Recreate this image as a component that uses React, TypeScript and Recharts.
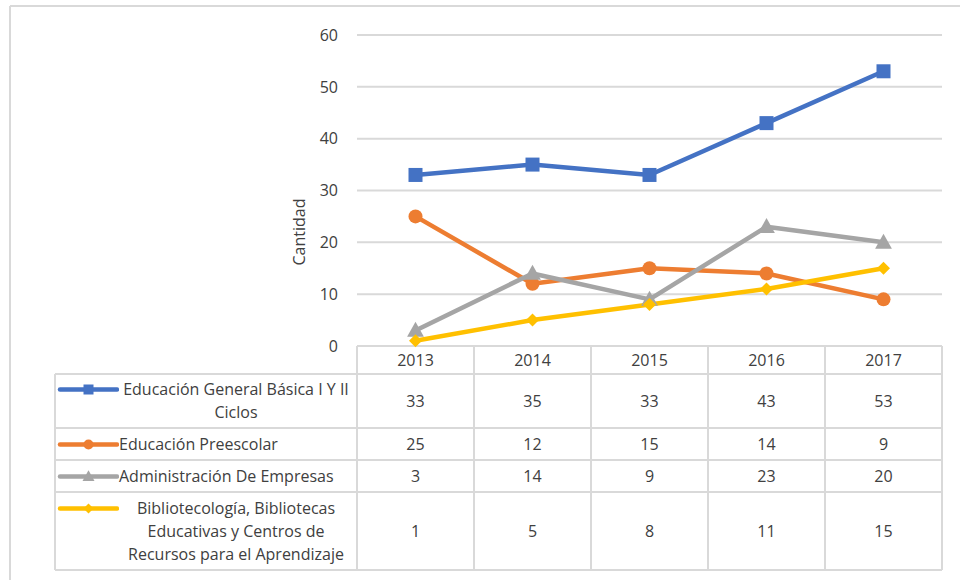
import { LineChart, Line, XAxis, YAxis, CartesianGrid } from 'recharts'

const years = ['2013', '2014', '2015', '2016', '2017']
const seriesNames = [
  'Educación General Básica I Y II Ciclos',
  'Educación Preescolar',
  'Administración De Empresas',
  'Bibliotecología, Bibliotecas Educativas y Centros de Recursos para el Aprendizaje',
]
const basica = [33, 35, 33, 43, 53]
const preescolar = [25, 12, 15, 14, 9]
const administracion = [3, 14, 9, 23, 20]
const bibliotecologia = [1, 5, 8, 11, 15]
const yTicks = [0, 10, 20, 30, 40, 50, 60]
const yTitle = 'Cantidad'

const FONT = '"Open Sans", "Liberation Sans", sans-serif'
const FS = 16
const TEXT = '#404040'
const GRID = '#D9D9D9'

type Shape = 'square' | 'circle' | 'triangle' | 'diamond'

const series = [
  { key: 'basica', name: seriesNames[0], values: basica, color: '#4472C4', shape: 'square' as Shape },
  { key: 'preescolar', name: seriesNames[1], values: preescolar, color: '#ED7D31', shape: 'circle' as Shape },
  { key: 'administracion', name: seriesNames[2], values: administracion, color: '#A5A5A5', shape: 'triangle' as Shape },
  { key: 'bibliotecologia', name: seriesNames[3], values: bibliotecologia, color: '#FFC000', shape: 'diamond' as Shape },
]

const data = years.map((year, i) => {
  const row: Record<string, string | number> = { year }
  series.forEach((s) => (row[s.key] = s.values[i]))
  return row
})

// table geometry (page pixels)
const colX = 357
const colW = 117
const rowY = [346, 374, 428, 460, 492, 570]
const tableLeft = 55
const tableRight = colX + colW * years.length

function Marker({ shape, cx, cy, size, color }: { shape: Shape; cx: number; cy: number; size: number; color: string }) {
  const h = size / 2
  if (shape === 'square') return <rect x={cx - h} y={cy - h} width={size} height={size} fill={color} />
  if (shape === 'circle') return <circle cx={cx} cy={cy} r={h} fill={color} />
  if (shape === 'triangle')
    return (
      <polygon
        points={`${cx},${cy - size * 0.62} ${cx - size * 0.6},${cy + size * 0.45} ${cx + size * 0.6},${cy + size * 0.45}`}
        fill={color}
      />
    )
  return <polygon points={`${cx},${cy - h} ${cx + h},${cy} ${cx},${cy + h} ${cx - h},${cy}`} fill={color} />
}

function TableOverlay() {
  return (
    <svg width={960} height={580} style={{ position: 'absolute', left: 0, top: 0 }}>
      {/* outer frame */}
      <line x1={10} y1={6} x2={960} y2={6} stroke={GRID} strokeWidth={2} />
      <line x1={10} y1={6} x2={10} y2={580} stroke={GRID} strokeWidth={2} />

      {/* horizontal rules */}
      <line x1={colX} y1={rowY[0]} x2={tableRight} y2={rowY[0]} stroke={GRID} strokeWidth={2} />
      {rowY.slice(1).map((y) => (
        <line key={y} x1={tableLeft} y1={y} x2={tableRight} y2={y} stroke={GRID} strokeWidth={2} />
      ))}
      {/* vertical rules */}
      <line x1={tableLeft} y1={rowY[1]} x2={tableLeft} y2={rowY[5]} stroke={GRID} strokeWidth={2} />
      {years.map((_, i) => (
        <line key={i} x1={colX + colW * i} y1={rowY[0]} x2={colX + colW * i} y2={rowY[5]} stroke={GRID} strokeWidth={2} />
      ))}
      <line x1={tableRight} y1={rowY[0]} x2={tableRight} y2={rowY[5]} stroke={GRID} strokeWidth={2} />

      {/* header years */}
      {years.map((y, i) => (
        <text
          key={y}
          x={colX + colW * (i + 0.5)}
          y={(rowY[0] + rowY[1]) / 2}
          textAnchor="middle"
          dominantBaseline="central"
          fontFamily={FONT}
          fontSize={FS}
          fill={TEXT}
        >
          {y}
        </text>
      ))}

      {/* values */}
      {series.map((s, r) =>
        s.values.map((v, i) => (
          <text
            key={`${s.key}-${i}`}
            x={colX + colW * (i + 0.5)}
            y={(rowY[r + 1] + rowY[r + 2]) / 2}
            textAnchor="middle"
            dominantBaseline="central"
            fontFamily={FONT}
            fontSize={FS}
            fill={TEXT}
          >
            {v}
          </text>
        ))
      )}

      {/* axis title */}
      <text
        transform="translate(299,232) rotate(-90)"
        textAnchor="middle"
        dominantBaseline="central"
        fontFamily={FONT}
        fontSize={FS}
        fill={TEXT}
      >
        {yTitle}
      </text>
    </svg>
  )
}

function RowLabels() {
  return (
    <>
      {series.map((s, r) => (
        <div
          key={s.key}
          style={{
            position: 'absolute',
            left: tableLeft,
            top: rowY[r + 1],
            width: colX - tableLeft,
            height: rowY[r + 2] - rowY[r + 1],
            display: 'flex',
            alignItems: 'center',
          }}
        >
          <div style={{ display: 'flex', alignItems: 'flex-start' }}>
            <svg width={64} height={23} style={{ flex: 'none' }}>
              <line x1={5} y1={11.5} x2={62} y2={11.5} stroke={s.color} strokeWidth={4.5} strokeLinecap="round" />
              <Marker shape={s.shape} cx={33.5} cy={11.5} size={10} color={s.color} />
            </svg>
            <span
              style={{
                display: 'inline-block',
                maxWidth: 234,
                textAlign: 'center',
                fontFamily: FONT,
                fontSize: FS,
                lineHeight: '23px',
                color: TEXT,
              }}
            >
              {s.name}
            </span>
          </div>
        </div>
      ))}
    </>
  )
}

export default function App() {
  return (
    <div style={{ position: 'absolute', left: 0, top: 0, width: 960, height: 580, background: '#fff', overflow: 'hidden' }}>
      <TableOverlay />
      <RowLabels />
      <div style={{ position: 'absolute', left: 0, top: 0 }}>
        <LineChart width={960} height={580} data={data} margin={{ top: 35, right: 18, bottom: 234, left: 297 }}>
          <CartesianGrid vertical={false} stroke={GRID} strokeWidth={2} />
          <XAxis dataKey="year" hide padding={{ left: colW / 2, right: colW / 2 }} />
          <YAxis
            width={60}
            domain={[0, 60]}
            ticks={yTicks}
            axisLine={false}
            tickLine={false}
            tickMargin={13}
            tick={{ fontSize: FS, fill: TEXT, fontFamily: FONT }}
          />
          {series.map((s) => (
            <Line
              key={s.key}
              dataKey={s.key}
              name={s.name}
              type="linear"
              stroke={s.color}
              strokeWidth={4.5}
              strokeLinejoin="round"
              isAnimationActive={false}
              activeDot={false}
              dot={(p: any) => (
                <Marker
                  key={`${s.key}-dot-${p.index}`}
                  shape={s.shape}
                  cx={p.cx}
                  cy={p.cy}
                  size={s.shape === 'diamond' ? 13 : 14}
                  color={s.color}
                />
              )}
            />
          ))}
        </LineChart>
      </div>
    </div>
  )
}
